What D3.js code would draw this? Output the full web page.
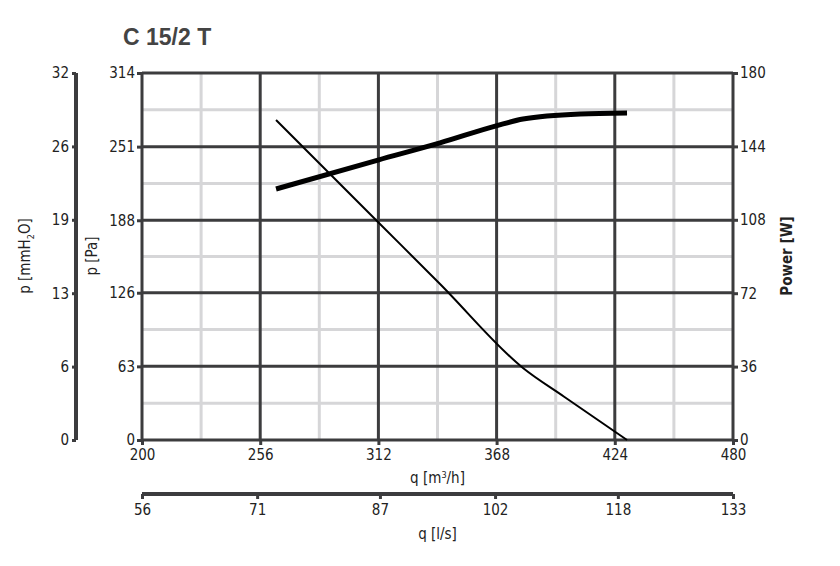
<!DOCTYPE html>
<html><head><meta charset="utf-8">
<script src="https://cdn.jsdelivr.net/npm/d3@7"></script>
<style>body{margin:0;background:#fff}text{font-family:"Liberation Sans Narrow","DejaVu Sans Condensed",sans-serif;fill:#222}</style>
</head><body>
<script>
var width = 840, height = 566
var qTicks = [200, 256, 312, 368, 424, 480]
var lsTicks = [56, 71, 87, 102, 118, 133]
var paTicks = [0, 63, 126, 188, 251, 314]
var mmTicks = [0, 6, 13, 19, 26, 32]
var wTicks = [0, 36, 72, 108, 144, 180]
var pressQ = [263.5, 311.8, 341.2, 380.5, 400, 429.8]
var pressP = [273.8, 186.5, 133.5, 61.6, 37, 0]
var powQ = [263.5, 311.8, 341.2, 368.2, 380.5, 407.5, 429.8]
var powW = [123.1, 137.3, 145.7, 154.2, 157.4, 159.9, 160.4]

var L = 142, R = 733, T = 73, B = 440
var x = d3.scaleLinear().domain([200, 480]).range([L, R])
var xl = d3.scaleLinear().domain([56, 133]).range([L, R])
var y = d3.scaleLinear().domain([0, 314]).range([B, T])
var yw = d3.scaleLinear().domain([0, 180]).range([B, T])
var dark = '#3c3c3e', light = '#d6d6d8'

var svg = d3.select('body').append('svg').attr('width', width).attr('height', height)

svg.append('text').attr('x', 123).attr('y', 45).text('C 15/2 T')
  .style('font-family', 'Liberation Sans, Arial, sans-serif').style('font-weight', 'bold')
  .style('font-size', '23px').style('fill', '#444')

// minor grid
var minorX = d3.range(0, 5).map(function (i) { return (qTicks[i] + qTicks[i + 1]) / 2 })
var minorY = d3.range(0, 5).map(function (i) { return (paTicks[i] + paTicks[i + 1]) / 2 })
svg.selectAll('.mx').data(minorX).enter().append('line')
  .attr('x1', d => x(d)).attr('x2', d => x(d)).attr('y1', T).attr('y2', B)
  .style('stroke', light).style('stroke-width', 3)
svg.selectAll('.my').data(minorY).enter().append('line')
  .attr('y1', d => y(d)).attr('y2', d => y(d)).attr('x1', L).attr('x2', R)
  .style('stroke', light).style('stroke-width', 3)
// major grid
svg.selectAll('.gx').data(qTicks).enter().append('line')
  .attr('x1', d => x(d)).attr('x2', d => x(d)).attr('y1', T).attr('y2', B)
  .style('stroke', dark).style('stroke-width', 3)
svg.selectAll('.gy').data(paTicks).enter().append('line')
  .attr('y1', d => y(d)).attr('y2', d => y(d)).attr('x1', L).attr('x2', R)
  .style('stroke', dark).style('stroke-width', 3)

function styleAxis (g) {
  g.select('.domain').remove()
  g.selectAll('.tick line').style('stroke', dark).style('stroke-width', 3)
  g.selectAll('.tick text').style('font-size', '15px').style('fill', '#222')
}
svg.append('g').attr('transform', 'translate(0,' + B + ')')
  .call(d3.axisBottom(x).tickValues(qTicks).tickSize(5).tickPadding(4)).call(styleAxis)
svg.append('g').attr('transform', 'translate(' + L + ',0)')
  .call(d3.axisLeft(y).tickValues(paTicks).tickSize(5).tickPadding(2)).call(styleAxis)
svg.append('g').attr('transform', 'translate(' + R + ',0)')
  .call(d3.axisRight(yw).tickValues(wTicks).tickSize(5).tickPadding(2)).call(styleAxis)

// mmH2O axis
var ymm = d3.scaleLinear().domain([0, 5]).range([B, T])
var gmm = svg.append('g').attr('transform', 'translate(76,0)')
gmm.append('line').attr('y1', T).attr('y2', B).style('stroke', dark).style('stroke-width', 4)
gmm.call(d3.axisLeft(ymm).tickValues(d3.range(6)).tickFormat(function (i) { return mmTicks[i] }).tickSize(4).tickPadding(3))
  .call(styleAxis)

// l/s axis
var gls = svg.append('g').attr('transform', 'translate(0,494)')
gls.append('line').attr('x1', L).attr('x2', R).style('stroke', dark).style('stroke-width', 4)
gls.call(d3.axisBottom(xl).tickValues(lsTicks).tickSize(5).tickPadding(5)).call(styleAxis)

svg.append('text').attr('x', (L + R) / 2).attr('y', 483).attr('text-anchor', 'middle')
  .style('font-size', '15px').html('q [m<tspan dy="-5" font-size="9">3</tspan><tspan dy="5">/h]</tspan>')
svg.append('text').attr('x', (L + R) / 2).attr('y', 539).attr('text-anchor', 'middle')
  .style('font-size', '15px').text('q [l/s]')
svg.append('text').attr('transform', 'translate(30,256) rotate(-90)').attr('text-anchor', 'middle')
  .style('font-size', '15px').html('p [mmH<tspan dy="4" font-size="9">2</tspan><tspan dy="-4">O]</tspan>')
svg.append('text').attr('transform', 'translate(97,256) rotate(-90)').attr('text-anchor', 'middle')
  .style('font-size', '15px').text('p [Pa]')
svg.append('text').attr('transform', 'translate(792,256) rotate(-90)').attr('text-anchor', 'middle')
  .style('font-size', '15px').style('font-weight', 'bold').text('Power [W]')

var lineP = d3.line().x(function (d, i) { return x(pressQ[i]) }).y(function (d) { return y(d) }).curve(d3.curveMonotoneX)
svg.append('path').attr('d', lineP(pressP)).style('fill', 'none').style('stroke', '#000').style('stroke-width', 2)
var lineW = d3.line().x(function (d, i) { return x(powQ[i]) }).y(function (d) { return yw(d) }).curve(d3.curveMonotoneX)
svg.append('path').attr('d', lineW(powW)).style('fill', 'none').style('stroke', '#000').style('stroke-width', 5)
</script>
</body></html>
